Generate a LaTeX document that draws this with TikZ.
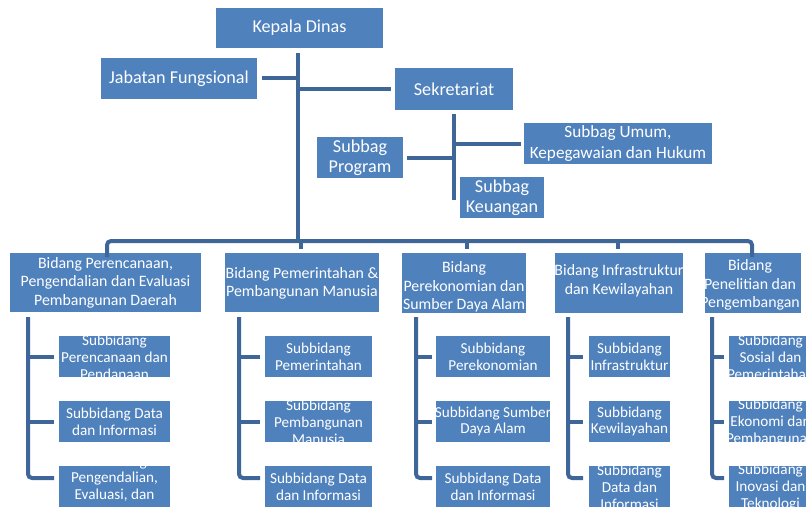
\documentclass[tikz,border=0pt]{standalone}
\usepackage{fontspec}
\setmainfont{Carlito}
\usetikzlibrary{fit}
\definecolor{boxblue}{HTML}{4F81BD}
\definecolor{linblue}{HTML}{3F6699}
\tikzset{
  bx/.style={fill=boxblue, inner sep=0pt, outer sep=0pt},
  topt/.style={text=white, align=center, inner sep=0pt, font=\fontsize{13.6}{15.2}\selectfont},
  umt/.style={text=white, align=center, inner sep=0pt, font=\fontsize{12.9}{15}\selectfont},
  bidt/.style={text=white, align=center, inner sep=0pt, font=\fontsize{11.9}{13.9}\selectfont},
  subt/.style={text=white, align=center, inner sep=0pt, font=\fontsize{11.4}{12.6}\selectfont},
  conn/.style={draw=linblue, line width=3pt, line cap=butt}
}
\newcommand\orgbox[9]{%
  \node[bx, fit={(#3,#4) (#5,#6)}] (#2) {};
  \begin{scope}
    \clip (#2.south west) rectangle (#2.north east);
    \node[#1] (#2t) at ([shift={(#7,#8)}]#2.center) {#9};
  \end{scope}}
\begin{document}
\begin{tikzpicture}[x=0.75pt, y=-0.75pt]
\useasboundingbox (0,0) rectangle (806,508);
\clip (0,0) rectangle (806,508);
\fill[white] (0,0) rectangle (806,508);
% top level
\orgbox{topt}{kd}{216}{8}{383}{48}{0}{0}{Kepala Dinas}
\orgbox{topt}{jf}{101}{58}{257}{99}{0}{0}{Jabatan Fungsional}
\orgbox{topt}{sek}{395}{68}{513}{110}{0}{0}{Sekretariat}
\orgbox{umt}{sum}{524}{123}{712}{164}{0}{0}{Subbag Umum,\\Kepegawaian dan Hukum}
\orgbox{topt}{spr}{317}{137}{403}{178}{0}{0}{Subbag\\Program}
\orgbox{topt}{ske}{460}{177}{544}{218}{0}{0}{Subbag\\Keuangan}
% bidang
\orgbox{bidt}{b1}{10}{253}{201}{312}{0}{0}{Bidang Perencanaan,\\Pengendalian dan Evaluasi\\Pembangunan Daerah}
\orgbox{bidt}{b2}{225}{253}{379}{312}{0}{1}{Bidang Pemerintahan \&\\Pembangunan Manusia}
\orgbox{bidt}{b3}{402}{253}{526}{313}{0}{4}{Bidang\\Perekonomian dan\\Sumber Daya Alam}
\orgbox{bidt}{b4}{555}{253}{683}{313}{0}{-2}{Bidang Infrastruktur\\dan Kewilayahan}
\orgbox{bidt}{b5}{705}{253}{801}{313}{-3}{2}{Bidang\\Penelitian dan\\Pengembangan}
% subbidang column 1
\orgbox{subt}{s11}{59}{336}{170}{377}{0}{1}{Subbidang\\Perencanaan dan\\Pendanaan}
\orgbox{subt}{s12}{59}{401}{170}{442}{0}{0}{Subbidang Data\\dan Informasi}
\orgbox{subt}{s13}{59}{466}{170}{507}{0}{-8}{Subbidang\\Pengendalian,\\Evaluasi, dan}
% column 2
\orgbox{subt}{s21}{265}{336}{372}{377}{0}{0}{Subbidang\\Pemerintahan}
\orgbox{subt}{s22}{265}{401}{372}{442}{0}{1}{Subbidang\\Pembangunan\\Manusia}
\orgbox{subt}{s23}{265}{466}{372}{507}{0}{0}{Subbidang Data\\dan Informasi}
% column 3
\orgbox{subt}{s31}{436}{336}{550}{377}{0}{0}{Subbidang\\Perekonomian}
\orgbox{subt}{s32}{436}{401}{550}{442}{0}{0}{Subbidang Sumber\\Daya Alam}
\orgbox{subt}{s33}{436}{466}{550}{507}{0}{0}{Subbidang Data\\dan Informasi}
% column 4
\orgbox{subt}{s41}{589}{336}{670}{377}{0}{0}{Subbidang\\Infrastruktur}
\orgbox{subt}{s42}{589}{401}{670}{442}{0}{0}{Subbidang\\Kewilayahan}
\orgbox{subt}{s43}{589}{466}{670}{507}{0}{1}{Subbidang\\Data dan\\Informasi}
% column 5
\orgbox{subt}{s51}{729}{336}{812}{377}{0}{1}{Subbidang\\Sosial dan\\Pemerintahan}
\orgbox{subt}{s52}{729}{401}{812}{442}{0}{1}{Subbidang\\Ekonomi dan\\Pembangunan}
\orgbox{subt}{s53}{729}{466}{812}{507}{0}{1}{Subbidang\\Inovasi dan\\Teknologi}
% connector anchor points
\coordinate (trunkTop) at (298,53);
\coordinate (trunkBot) at (298,241);
\coordinate (jfJ) at (298,78);
\coordinate (sekJ) at (298,89);
\coordinate (sekTop) at (454,114);
\coordinate (sekBot) at (454,200);
\coordinate (sumJ) at (454,144);
\coordinate (sprJ) at (454,158);
% top connectors
\draw[conn] (trunkTop) -- (trunkBot);
\draw[conn] ([xshift=3.75pt]jf.east |- jfJ) -- (jfJ);
\draw[conn] (sekJ) -- ([xshift=-3pt]sek.west |- sekJ);
\draw[conn] (sekTop) -- (sekBot);
\draw[conn] (sumJ) -- ([xshift=-2.25pt]sum.west |- sumJ);
\draw[conn] ([xshift=3pt]spr.east |- sprJ) -- (sprJ);
% bus
\coordinate (busL) at (107,241);
\coordinate (busR) at (752,241);
\draw[conn, rounded corners=3pt] ([yshift=-3pt]b1.north -| busL) -- (busL) -- (busR) -- ([yshift=-3pt]b5.north -| busR);
\foreach \bb/\xx in {b2/301, b3/467, b4/618}
  \draw[conn] (\xx,241) -- ([yshift=3pt]\bb.north -| \xx,0);
% sub trees
\foreach \cc/\vx/\hx in {1/28/54, 2/239/260, 3/416/432, 4/568/583, 5/712/724}{
  \draw[conn, rounded corners=3pt] (\vx,317) -- (\vx,478) -- (\hx,478);
  \draw[conn] (\vx,357) -- (\hx,357);
  \draw[conn] (\vx,422) -- (\hx,422);
}
\end{tikzpicture}
\end{document}
